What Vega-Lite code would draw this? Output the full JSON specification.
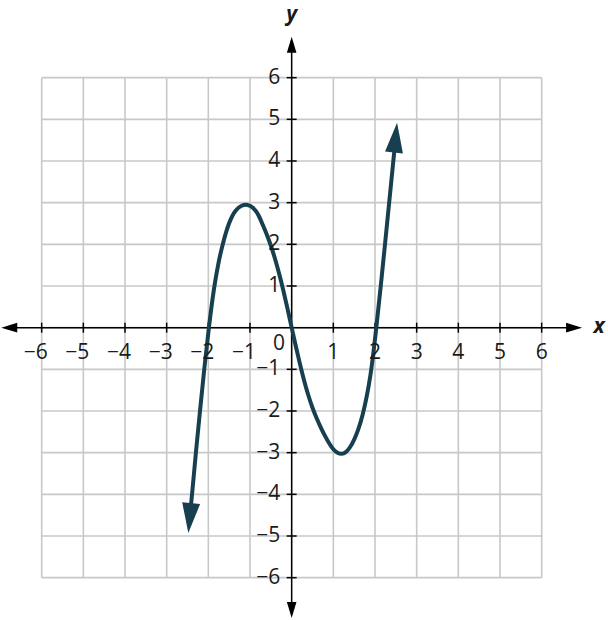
{
  "$schema": "https://vega.github.io/schema/vega-lite/v6.json",
  "autosize": "none",
  "width": 583.33,
  "height": 583.33,
  "padding": {"left": 0, "top": 36, "right": 24.67, "bottom": 0.67},
  "background": "white",
  "config": {
    "view": {"stroke": null},
    "axis": {"disable": true},
    "text": {"font": "Open Sans", "fontSize": 21, "color": "#1a1a1a"}
  },
  "datasets": {
    "grid": [
      {"v": -6}, {"v": -5}, {"v": -4}, {"v": -3}, {"v": -2}, {"v": -1}, {"v": 0},
      {"v": 1}, {"v": 2}, {"v": 3}, {"v": 4}, {"v": 5}, {"v": 6}
    ],
    "ticks": [
      {"v": -6}, {"v": -5}, {"v": -4}, {"v": -3}, {"v": -2}, {"v": -1},
      {"v": 1}, {"v": 2}, {"v": 3}, {"v": 4}, {"v": 5}, {"v": 6}
    ],
    "curve": [
      {"x": -2.44, "y": -4.5},
      {"x": -2.39, "y": -4.0},
      {"x": -2.30, "y": -3.0},
      {"x": -2.20, "y": -2.0},
      {"x": -2.10, "y": -1.0},
      {"x": -1.99, "y": 0},
      {"x": -1.86, "y": 1.0},
      {"x": -1.76, "y": 1.55},
      {"x": -1.66, "y": 2.0},
      {"x": -1.5, "y": 2.55},
      {"x": -1.35, "y": 2.83},
      {"x": -1.2, "y": 2.94},
      {"x": -1.06, "y": 2.96},
      {"x": -0.92, "y": 2.89},
      {"x": -0.8, "y": 2.72},
      {"x": -0.7, "y": 2.48},
      {"x": -0.6, "y": 2.25},
      {"x": -0.5, "y": 1.98},
      {"x": -0.4, "y": 1.66},
      {"x": -0.3, "y": 1.3},
      {"x": -0.2, "y": 0.9},
      {"x": -0.1, "y": 0.46},
      {"x": 0, "y": 0},
      {"x": 0.1, "y": -0.45},
      {"x": 0.2, "y": -0.88},
      {"x": 0.3, "y": -1.28},
      {"x": 0.4, "y": -1.63},
      {"x": 0.5, "y": -1.93},
      {"x": 0.6, "y": -2.18},
      {"x": 0.7, "y": -2.4},
      {"x": 0.8, "y": -2.6},
      {"x": 0.9, "y": -2.78},
      {"x": 1.0, "y": -2.93},
      {"x": 1.1, "y": -3.01},
      {"x": 1.2, "y": -3.04},
      {"x": 1.3, "y": -3.0},
      {"x": 1.4, "y": -2.88},
      {"x": 1.5, "y": -2.7},
      {"x": 1.6, "y": -2.45},
      {"x": 1.7, "y": -2.12},
      {"x": 1.8, "y": -1.68},
      {"x": 1.9, "y": -1.1},
      {"x": 1.95, "y": -0.7},
      {"x": 2.0, "y": -0.28},
      {"x": 2.03, "y": 0},
      {"x": 2.14, "y": 1.0},
      {"x": 2.24, "y": 2.0},
      {"x": 2.34, "y": 3.0},
      {"x": 2.44, "y": 4.0},
      {"x": 2.48, "y": 4.4}
    ],
    "axisArrows": [
      {"x": 6.97, "y": 0, "dir": "right"},
      {"x": -6.97, "y": 0, "dir": "left"},
      {"x": 0, "y": 6.98, "dir": "up"},
      {"x": 0, "y": -6.97, "dir": "down"}
    ],
    "curveArrows": [
      {"x": 2.53, "y": 4.92, "dir": "curve-up"},
      {"x": -2.48, "y": -4.93, "dir": "curve-down"}
    ]
  },
  "layer": [
    {
      "data": {"name": "grid"},
      "mark": {"type": "rule", "color": "#c8c8c8", "strokeWidth": 1.6},
      "encoding": {
        "x": {"field": "v", "type": "quantitative", "scale": {"domain": [-7, 7], "nice": false, "zero": false}},
        "y": {"datum": -6, "scale": {"domain": [-7, 7], "nice": false, "zero": false}},
        "y2": {"datum": 6}
      }
    },
    {
      "data": {"name": "grid"},
      "mark": {"type": "rule", "color": "#c8c8c8", "strokeWidth": 1.6},
      "encoding": {
        "y": {"field": "v", "type": "quantitative"},
        "x": {"datum": -6},
        "x2": {"datum": 6}
      }
    },
    {
      "data": {"values": [{}]},
      "mark": {"type": "rule", "color": "black", "strokeWidth": 1.5},
      "encoding": {
        "x": {"datum": -6.8},
        "x2": {"datum": 6.8},
        "y": {"datum": 0}
      }
    },
    {
      "data": {"values": [{}]},
      "mark": {"type": "rule", "color": "black", "strokeWidth": 1.5},
      "encoding": {
        "y": {"datum": -6.8},
        "y2": {"datum": 6.8},
        "x": {"datum": 0}
      }
    },
    {
      "data": {"name": "ticks"},
      "mark": {"type": "tick", "orient": "vertical", "size": 10, "thickness": 1.5, "color": "black", "opacity": 1},
      "encoding": {
        "x": {"field": "v", "type": "quantitative"},
        "y": {"datum": 0}
      }
    },
    {
      "data": {"name": "ticks"},
      "mark": {"type": "tick", "orient": "horizontal", "size": 10, "thickness": 1.5, "color": "black", "opacity": 1},
      "encoding": {
        "y": {"field": "v", "type": "quantitative"},
        "x": {"datum": 0}
      }
    },
    {
      "data": {"name": "curve"},
      "mark": {"type": "line", "color": "#173f4f", "strokeWidth": 4, "interpolate": "basis"},
      "encoding": {
        "x": {"field": "x", "type": "quantitative"},
        "y": {"field": "y", "type": "quantitative"}
      }
    },
    {
      "data": {"name": "axisArrows"},
      "mark": {"type": "point", "filled": true, "size": 256, "color": "black", "opacity": 1, "strokeWidth": 0},
      "encoding": {
        "x": {"field": "x", "type": "quantitative"},
        "y": {"field": "y", "type": "quantitative"},
        "shape": {
          "field": "dir", "type": "nominal", "legend": null,
          "scale": {
            "domain": ["up", "right", "down", "left", "curve-up", "curve-down"],
            "range": [
              "M0,0L0.6,2L-0.6,2Z",
              "M0,0L-2,0.6L-2,-0.6Z",
              "M0,0L0.6,-2L-0.6,-2Z",
              "M0,0L2,0.6L2,-0.6Z",
              "M0,0L0.391,2.051L-0.803,1.928Z",
              "M0,0L0.785,-1.935L-0.409,-2.048Z"
            ]
          }
        }
      }
    },
    {
      "data": {"name": "curveArrows"},
      "mark": {"type": "point", "filled": true, "size": 900, "color": "#173f4f", "opacity": 1, "strokeWidth": 0},
      "encoding": {
        "x": {"field": "x", "type": "quantitative"},
        "y": {"field": "y", "type": "quantitative"},
        "shape": {
          "field": "dir", "type": "nominal", "legend": null,
          "scale": {
            "domain": ["up", "right", "down", "left", "curve-up", "curve-down"],
            "range": [
              "M0,0L0.6,2L-0.6,2Z",
              "M0,0L-2,0.6L-2,-0.6Z",
              "M0,0L0.6,-2L-0.6,-2Z",
              "M0,0L2,0.6L2,-0.6Z",
              "M0,0L0.391,2.051L-0.803,1.928Z",
              "M0,0L0.785,-1.935L-0.409,-2.048Z"
            ]
          }
        }
      }
    },
    {
      "data": {"name": "ticks"},
      "mark": {"type": "text", "align": "right", "baseline": "middle", "dx": 6, "dy": 25},
      "encoding": {
        "x": {"field": "v", "type": "quantitative"},
        "y": {"datum": 0},
        "text": {"field": "v", "type": "quantitative"}
      }
    },
    {
      "data": {"name": "ticks"},
      "mark": {"type": "text", "align": "right", "baseline": "middle", "dx": -11.5},
      "encoding": {
        "y": {"field": "v", "type": "quantitative"},
        "x": {"datum": 0},
        "text": {"field": "v", "type": "quantitative"}
      }
    },
    {
      "data": {"values": [{"v": 0}]},
      "mark": {"type": "text", "align": "center", "baseline": "middle", "dx": -12.7, "dy": 16.3},
      "encoding": {
        "x": {"field": "v", "type": "quantitative"},
        "y": {"field": "v", "type": "quantitative"},
        "text": {"field": "v", "type": "quantitative"}
      }
    },
    {
      "data": {"values": [{"label": "x"}]},
      "mark": {"type": "text", "align": "center", "baseline": "alphabetic", "fontWeight": "bold", "fontStyle": "italic", "dx": 15.7, "dy": 5.6},
      "encoding": {
        "x": {"datum": 7},
        "y": {"datum": 0},
        "text": {"field": "label", "type": "nominal"}
      }
    },
    {
      "data": {"values": [{"label": "y"}]},
      "mark": {"type": "text", "align": "center", "baseline": "alphabetic", "fontWeight": "bold", "fontStyle": "italic", "dy": -15.5},
      "encoding": {
        "x": {"datum": 0},
        "y": {"datum": 7},
        "text": {"field": "label", "type": "nominal"}
      }
    }
  ]
}
